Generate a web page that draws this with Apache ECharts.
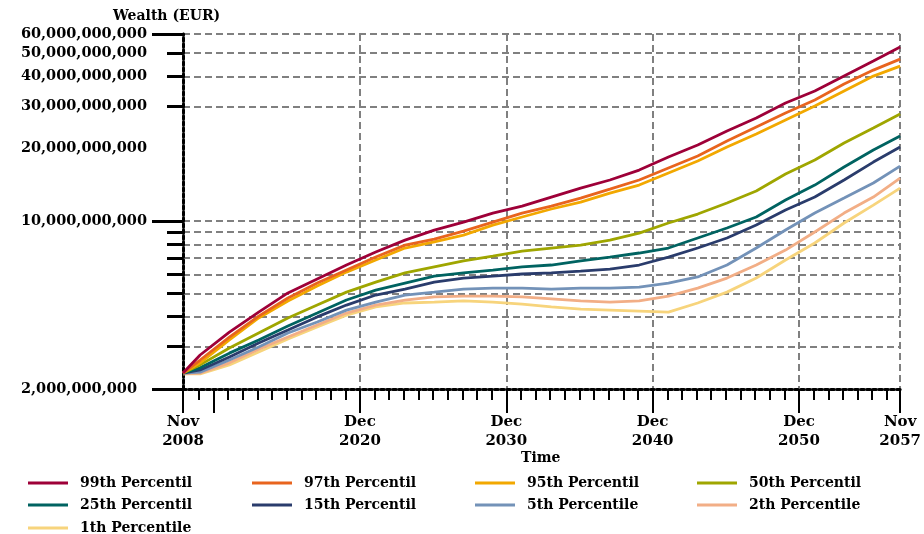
<!DOCTYPE html>
<html><head><meta charset="utf-8">
<script src="https://cdn.jsdelivr.net/npm/echarts@6/dist/echarts.min.js"></script>
<style>html,body{margin:0;padding:0;background:#fff}#c{width:924px;height:534px}</style>
</head><body><div id="c"></div>
<script>
// Time (decimal years) of sampled points
const years = [2008.83, 2010, 2012, 2014, 2016, 2018, 2020, 2022, 2024, 2026, 2028, 2030, 2032, 2034, 2036, 2038, 2040, 2042, 2044, 2046, 2048, 2050, 2052, 2054, 2056, 2057.83];
// Wealth in billions of EUR
const p99 = [2.33, 2.77, 3.45, 4.18, 5.02, 5.74, 6.56, 7.43, 8.33, 9.17, 9.90, 10.79, 11.54, 12.58, 13.71, 14.81, 16.29, 18.46, 20.70, 23.67, 26.81, 30.96, 34.73, 40.09, 46.28, 52.93];
const p97 = [2.33, 2.64, 3.29, 4.02, 4.78, 5.52, 6.25, 7.08, 7.94, 8.41, 9.08, 9.90, 10.79, 11.54, 12.46, 13.58, 14.81, 16.61, 18.63, 21.51, 24.60, 28.13, 31.86, 37.14, 42.46, 47.18];
const p95 = [2.33, 2.57, 3.20, 3.95, 4.65, 5.36, 6.13, 6.88, 7.72, 8.18, 8.74, 9.62, 10.39, 11.22, 11.99, 13.07, 14.11, 15.83, 17.76, 20.31, 23.00, 26.30, 30.08, 34.73, 40.09, 44.12];
const p50 = [2.33, 2.52, 2.96, 3.42, 3.95, 4.47, 5.06, 5.57, 6.08, 6.44, 6.82, 7.15, 7.50, 7.72, 7.94, 8.33, 8.91, 9.81, 10.69, 11.88, 13.33, 15.68, 17.93, 21.10, 24.36, 27.86];
const p25 = [2.33, 2.45, 2.82, 3.20, 3.66, 4.14, 4.69, 5.16, 5.52, 5.90, 6.08, 6.25, 6.44, 6.56, 6.82, 7.08, 7.36, 7.72, 8.50, 9.35, 10.39, 12.23, 14.11, 16.77, 19.74, 22.57];
const p15 = [2.33, 2.40, 2.72, 3.11, 3.52, 3.99, 4.47, 4.92, 5.21, 5.57, 5.79, 5.90, 6.02, 6.08, 6.19, 6.31, 6.56, 7.08, 7.72, 8.50, 9.62, 11.11, 12.58, 14.81, 17.59, 20.31];
const p5 = [2.33, 2.35, 2.64, 2.99, 3.42, 3.80, 4.26, 4.60, 4.92, 5.06, 5.21, 5.26, 5.26, 5.21, 5.26, 5.26, 5.31, 5.52, 5.85, 6.56, 7.72, 9.17, 10.79, 12.46, 14.39, 16.93];
const p2 = [2.31, 2.33, 2.57, 2.93, 3.29, 3.69, 4.14, 4.47, 4.69, 4.83, 4.87, 4.87, 4.83, 4.74, 4.65, 4.60, 4.65, 4.87, 5.26, 5.79, 6.56, 7.57, 9.00, 10.79, 12.58, 15.09];
const p1 = [2.31, 2.31, 2.52, 2.85, 3.23, 3.62, 4.06, 4.39, 4.56, 4.60, 4.65, 4.60, 4.51, 4.39, 4.30, 4.26, 4.22, 4.18, 4.56, 5.06, 5.79, 6.88, 8.10, 9.81, 11.65, 13.71];

const seriesNames = ['99th Percentil', '97th Percentil', '95th Percentil', '50th Percentil', '25th Percentil', '15th Percentil', '5th Percentile', '2th Percentile', '1th Percentile'];
const seriesData = [p99, p97, p95, p50, p25, p15, p5, p2, p1];
const seriesColors = ['#9E0038', '#E8641E', '#F2A800', '#9FA600', '#006361', '#2A3C6C', '#7392B8', '#F2AE86', '#F7D47C'];

// Axis ticks / labels
const yMinorTicks = [2e9, 3e9, 4e9, 5e9, 6e9, 7e9, 8e9, 9e9, 1e10, 3e10, 4e10, 5e10, 6e10];
const yMajorTicks = [2e9, 1e10, 6e10];
const yLabelValues = [2e9, 1e10, 2e10, 3e10, 4e10, 5e10, 6e10];
const xLabelValues = [2008.83, 2020.92, 2030.92, 2040.92, 2050.92, 2057.83];
const xLabelTexts = ['Nov\n2008', 'Dec\n2020', 'Dec\n2030', 'Dec\n2040', 'Dec\n2050', 'Nov\n2057'];
const xMajorTicks = [2008.83, 2010.92, 2020.92, 2030.92, 2040.92, 2050.92, 2057.83];
const xGridValues = [2020.92, 2030.92, 2040.92, 2050.92, 2057.83];
const xMinorTicks = [2008.83];
for (let y = 2009; y <= 2056; y++) xMinorTicks.push(y + 0.92);
xMinorTicks.push(2057.83);

const FONT = 'DejaVu Serif';
const X_MIN = 2008.83, X_MAX = 2057.83, Y_MIN = 2e9, Y_MAX = 6e10;
const GRID_DASH = [7, 4];

const chart = echarts.init(document.getElementById('c'), null, {renderer: 'canvas'});

const xBase = {type: 'value', min: X_MIN, max: X_MAX, gridIndex: 0, position: 'bottom'};
const yBase = {type: 'log', logBase: 10, min: Y_MIN, max: Y_MAX, gridIndex: 0, position: 'left'};

const legendCols = [28, 252, 475, 697];
const legendRows = [476, 498, 521];
const legends = seriesNames.map((n, i) => ({
  data: [n], left: legendCols[i % 4], top: legendRows[Math.floor(i / 4)],
  icon: 'rect', itemWidth: 40, itemHeight: 3, selectedMode: false, padding: 0,
  textStyle: {fontFamily: FONT, fontWeight: 'bold', fontSize: 14, color: '#000', padding: [0, 0, 0, 7]}
}));

chart.setOption({
  animation: false,
  backgroundColor: '#fff',
  grid: {left: 183, right: 19, top: 34, bottom: 145, containLabel: false},
  legend: legends,
  graphic: [
    {type: 'text', left: 113, top: 9, style: {text: 'Wealth (EUR)', fontFamily: FONT, fontWeight: 'bold', fontSize: 14, fill: '#000'}},
    {type: 'text', left: 521, top: 451, style: {text: 'Time', fontFamily: FONT, fontWeight: 'bold', fontSize: 14, fill: '#000'}}
  ],
  xAxis: [
    Object.assign({}, xBase, {
      axisLine: {show: true, onZero: false, lineStyle: {color: '#808080', width: 3}},
      axisTick: {show: true, customValues: xMinorTicks, length: 11, lineStyle: {color: '#000', width: 2}},
      axisLabel: {show: false}, splitLine: {show: false}
    }),
    Object.assign({}, xBase, {
      axisLine: {show: true, onZero: false, lineStyle: {color: '#000', width: 3, type: [3, 3]}},
      axisTick: {show: true, customValues: xMajorTicks, length: 24, lineStyle: {color: '#000', width: 2}},
      axisLabel: {show: true, customValues: xLabelValues, margin: 24, lineHeight: 19,
        fontFamily: FONT, fontWeight: 'bold', fontSize: 15, color: '#000', align: 'center',
        formatter: v => { const i = xLabelValues.findIndex(a => Math.abs(a - v) < 0.01); return i >= 0 ? xLabelTexts[i] : ''; }},
      splitLine: {show: false}
    }),
    Object.assign({}, xBase, {
      axisLine: {show: false}, axisTick: {show: false, customValues: xGridValues}, axisLabel: {show: false},
      splitLine: {show: true, lineStyle: {color: '#808080', width: 2, type: GRID_DASH}}
    })
  ],
  yAxis: [
    Object.assign({}, yBase, {
      axisLine: {show: true, lineStyle: {color: '#808080', width: 3}},
      axisTick: {show: true, customValues: yMinorTicks, length: 16, lineStyle: {color: '#000', width: 3}},
      axisLabel: {show: false},
      splitLine: {show: true, lineStyle: {color: '#808080', width: 2, type: GRID_DASH}}
    }),
    Object.assign({}, yBase, {
      axisLine: {show: true, lineStyle: {color: '#000', width: 3, type: [3, 3]}},
      axisTick: {show: true, customValues: yMajorTicks, length: 31, lineStyle: {color: '#000', width: 3}},
      axisLabel: {show: true, customValues: yLabelValues, margin: 36,
        fontFamily: FONT, fontWeight: 'bold', fontSize: 14.5, color: '#000',
        rich: {lo: {fontFamily: FONT, fontWeight: 'bold', fontSize: 14.5, color: '#000', padding: [0, 10, 0, 0]}},
        formatter: v => {
          const s = Math.round(v).toLocaleString('en-US');
          return Math.abs(v - Y_MIN) < 1 ? '{lo|' + s + '}' : s;
        }},
      splitLine: {show: false}
    })
  ],
  series: seriesNames.map((n, i) => ({
    name: n, type: 'line', xAxisIndex: 0, yAxisIndex: 0,
    data: years.map((x, k) => [x, seriesData[i][k] * 1e9]),
    showSymbol: false, symbol: 'none', smooth: false,
    color: seriesColors[i],
    lineStyle: {color: seriesColors[i], width: 2.8},
    z: 10 - i * 0.1
  }))
});
</script></body></html>
